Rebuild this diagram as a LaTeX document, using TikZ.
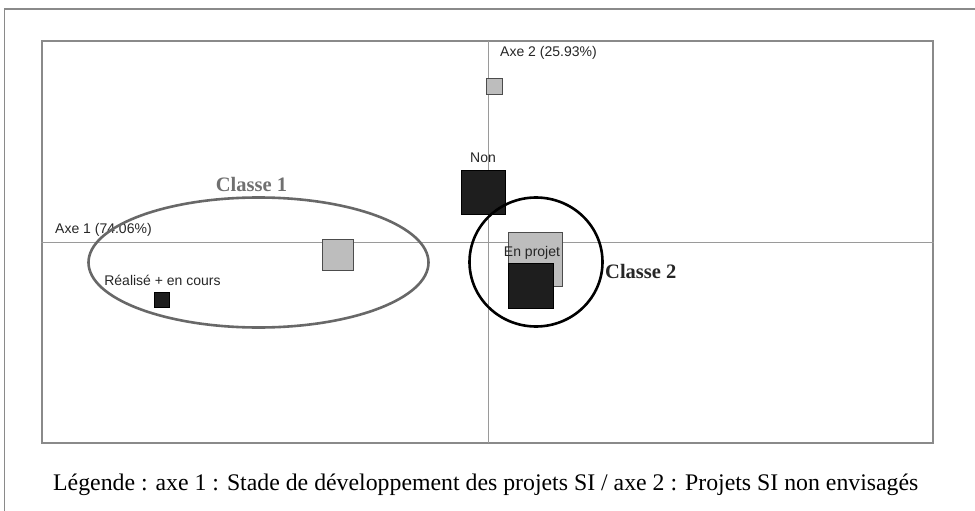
\documentclass[tikz,border=0pt]{standalone}
\usepackage{fontspec}
\setmainfont{Liberation Serif}
\setsansfont{Liberation Sans}
\usetikzlibrary{shapes.geometric}
\definecolor{framegray}{HTML}{8A8A8A}
\definecolor{axisgray}{HTML}{9A9A9A}
\definecolor{sqblack}{HTML}{1E1E1E}
\definecolor{sqgray}{HTML}{BDBDBD}
\definecolor{ellgray}{HTML}{686868}
\definecolor{labgray}{HTML}{707070}
\tikzset{
  blacksq/.style={rectangle, draw=black, fill=sqblack, line width=0.8pt, inner sep=0pt},
  graysq/.style={rectangle, draw=black!70, fill=sqgray, line width=0.8pt, inner sep=0pt},
  lab/.style={font=\sffamily\fontsize{14}{16}\selectfont, inner sep=0pt, text=black!85},
  classlab/.style={font=\bfseries\fontsize{20.5}{23}\selectfont, inner sep=0pt},
  classell/.style={ellipse, line width=2.6pt, inner sep=0pt, fill=none}
}
\begin{document}
\begin{tikzpicture}[x=1pt,y=-1pt]
\useasboundingbox (0,0) rectangle (975,511);
% outer page frame (top and left edges)
\draw[framegray, line width=1.4pt] (4.5,511) -- (4.5,9) -- (975,9);
% plot frame
\node[draw=framegray, line width=1.4pt, rectangle, inner sep=0pt, minimum width=891pt, minimum height=402pt] (frame) at (487.5,242) {};
% axes
\coordinate (xl) at (frame.west |- 0,242.5);
\coordinate (xr) at (frame.east |- 0,242.5);
\coordinate (yt) at (488,41);
\coordinate (yb) at (488,443);
\draw[axisgray, line width=0.9pt] (xl) -- (xr);
\draw[axisgray, line width=0.9pt] (yt) -- (yb);
% axis labels
\node[lab, anchor=west] (ax1) at (55,230) {Axe 1 (74.06\%)};
\node[lab, anchor=west] (ax2) at (500,53) {Axe 2 (25.93\%)};
% points
\node[graysq, minimum size=16pt] (p1) at (494.5,86.5) {};
\node[lab] (nonlab) at (483,158) {Non};
\node[blacksq, minimum size=44pt] (non) at (483.5,192) {};
\node[graysq, minimum size=31pt] (p2) at (338,254.5) {};
\node[lab] (reallab) at (162.5,280) {Réalisé + en cours};
\node[blacksq, minimum size=15pt] (real) at (162,299.5) {};
\node[graysq, minimum size=54pt] (p3) at (535,259) {};
\node[lab] (projlab) at (532,253) {En projet};
\node[blacksq, minimum size=45pt] (p4) at (530.5,286) {};
% classes
\node[classell, draw=ellgray, minimum width=340pt, minimum height=130pt] (c1) at (258.5,262.5) {};
\node[classlab, text=labgray] (c1lab) at (251.5,184) {Classe 1};
\node[classell, draw=black, minimum width=133pt, minimum height=129pt] (c2) at (536,262) {};
\node[classlab, text=black!85, anchor=west] (c2lab) at (605,271) {Classe 2};
% legend
\node[font=\fontsize{23.8}{28}\selectfont, inner sep=0pt, anchor=west] (leg) at (53,485) {Légende : axe 1 : Stade de développement des projets SI / axe 2 : Projets SI non envisagés};
\end{tikzpicture}
\end{document}
